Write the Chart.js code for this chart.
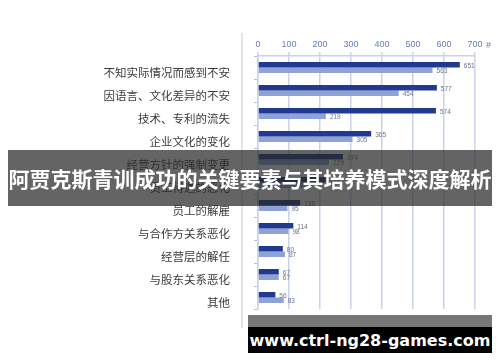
<!DOCTYPE html>
<html>
<head>
<meta charset="utf-8">
<script src="https://cdn.jsdelivr.net/npm/chart.js@4.4.1/dist/chart.umd.min.js"></script>
<style>
  html, body { margin: 0; padding: 0; background: #fff; }
  #wrap { position: relative; width: 500px; height: 362px; overflow: hidden; }
  #divider { position: absolute; left: 241px; top: 33px; width: 2px; height: 295px; background: #e4e4e4; }
  #banner {
    position: absolute; left: 8px; top: 150px; width: 484px; height: 56px;
    background: rgba(40, 40, 40, 0.72); color: #fff;
    font: bold 21px "Noto Sans CJK SC", sans-serif;
    display: flex; align-items: center; justify-content: center; white-space: nowrap;
  }
  #mark-top { position: absolute; left: 248px; top: 315px; width: 244px; height: 12px; background: #777; }
  #mark {
    position: absolute; left: 248px; top: 327px; width: 244px; height: 26px;
    background: #000; color: #fff; font: bold 16px "DejaVu Sans", sans-serif;
    display: flex; align-items: center; justify-content: center; white-space: nowrap;
  }
</style>
</head>
<body>
<div id="wrap">
  <canvas id="chart" width="500" height="362"></canvas>
  <div id="divider"></div>
  <div id="banner">阿贾克斯青训成功的关键要素与其培养模式深度解析</div>
  <div id="mark-top"></div>
  <div id="mark">www.ctrl-ng28-games.com</div>
</div>
<script>
// categories (top to bottom)
const categories = [
  '不知实际情况而感到不安',
  '因语言、文化差异的不安',
  '技术、专利的流失',
  '企业文化的变化',
  '经营方针的强制变更',
  '员工待遇的恶化',
  '员工的解雇',
  '与合作方关系恶化',
  '经营层的解任',
  '与股东关系恶化',
  '其他'
];
const seriesA = [651, 577, 574, 365, 274, 218, 136, 114, 80, 67, 56];
const seriesB = [563, 454, 219, 305, 229, 152, 95, 98, 87, 67, 83];
const xTicks = [0, 100, 200, 300, 400, 500, 600, 700];

const axisColor = '#c9d2ea';
const tickColor = '#6a7bb0';

// value labels next to each bar + the "#" unit after the last tick
const barLabels = {
  id: 'barLabels',
  afterDatasetsDraw(chart) {
    const ctx = chart.ctx;
    ctx.save();
    ctx.font = '6.5px "Liberation Sans", sans-serif';
    ctx.fillStyle = '#6a7490';
    ctx.textBaseline = 'middle';
    ctx.textAlign = 'left';
    chart.data.datasets.forEach((ds, i) => {
      chart.getDatasetMeta(i).data.forEach((bar, j) => {
        ctx.fillText(ds.data[j], bar.x + 4, bar.y + 1);
      });
    });
    const xs = chart.scales.x;
    ctx.font = '9px "Liberation Sans", sans-serif';
    ctx.fillStyle = tickColor;
    ctx.fillText('#', xs.getPixelForValue(700) + 11, 46);
    ctx.restore();
  }
};

new Chart(document.getElementById('chart'), {
  type: 'bar',
  data: {
    labels: categories,
    datasets: [
      { data: seriesA, backgroundColor: '#1f3a8f' },
      { data: seriesB, backgroundColor: '#8ea2d8' }
    ]
  },
  options: {
    indexAxis: 'y',
    responsive: false,
    animation: false,
    layout: { padding: { top: 36, right: 25, bottom: 53, left: 0 } },
    datasets: { bar: { categoryPercentage: 0.48, barPercentage: 1.0 } },
    plugins: { legend: { display: false }, tooltip: { enabled: false } },
    scales: {
      x: {
        position: 'top',
        min: 0,
        max: 700,
        afterBuildTicks: s => { s.ticks = xTicks.map(v => ({ value: v })); },
        afterFit: s => { s.height = 20; },
        grid: { color: axisColor, lineWidth: 1.5, tickLength: 4 },
        border: { color: axisColor, width: 1.5 },
        ticks: { color: tickColor, padding: 2, font: { size: 9, family: 'Liberation Sans' } }
      },
      y: {
        afterFit: s => { s.width = 258; },
        grid: { offset: true, drawOnChartArea: false, color: '#b8c0d8', tickLength: 4 },
        border: { color: axisColor, width: 1.5 },
        ticks: {
          color: '#3a3a3a',
          padding: 24,
          labelOffset: 5,
          font: { size: 11.5, family: 'Noto Sans CJK SC' }
        }
      }
    }
  },
  plugins: [barLabels]
});
</script>
</body>
</html>
